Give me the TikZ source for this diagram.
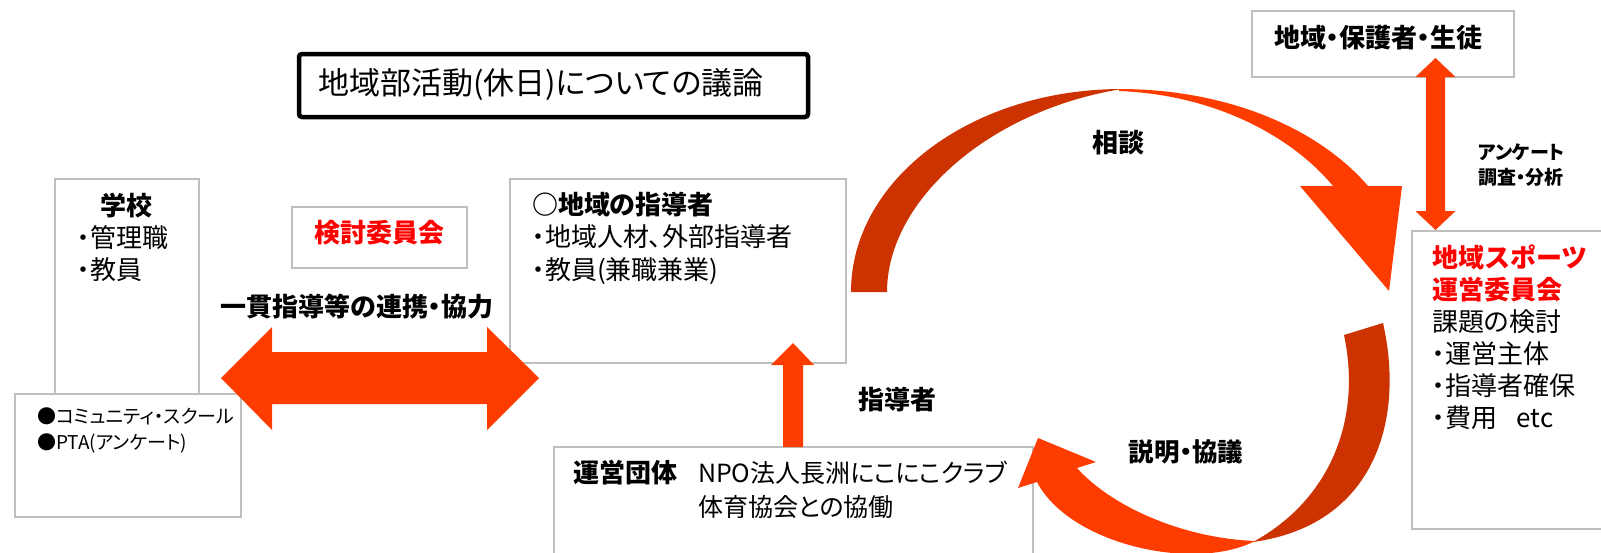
\documentclass[tikz,border=0pt]{standalone}
\usepackage{fontspec}
\setmainfont{Noto Sans CJK JP}[RawFeature=+palt]
\newfontfamily\jpfull{Noto Sans CJK JP}
\newcommand\fsz[2]{\fontsize{#1}{#2}\selectfont}
\definecolor{arrowred}{RGB}{255,60,0}
\definecolor{arrowdark}{RGB}{204,51,0}
\definecolor{boxgray}{RGB}{191,191,191}
\definecolor{textred}{RGB}{255,0,0}
\tikzset{
  box/.style={draw=boxgray, line width=2pt, fill=white, inner sep=0pt, outer sep=0pt, anchor=north west},
  titlebox/.style={draw=black, line width=4.5pt, fill=white, rounded corners=3pt, inner sep=0pt, outer sep=0pt, anchor=north west},
  txt/.style={inner sep=0pt, outer sep=0pt, align=left, anchor=north west, text=black},
  lbl/.style={inner sep=0pt, outer sep=0pt, text=black, font=\fsz{26}{32}\bfseries},
  blockarrow/.style={fill=arrowred},
  backarrow/.style={fill=arrowdark}
}
\begin{document}
\begin{tikzpicture}[x=1pt,y=-1pt]
\useasboundingbox (0,0) rectangle (1601,552);
\clip (0,0) rectangle (1601,552);
\fill[white] (0,0) rectangle (1601,552);

% boxes
\node[titlebox, minimum width=509, minimum height=63] (titlebox) at (299,54) {};
\node[box, minimum width=144, minimum height=215] (school) at (55,179) {};
\node[box, minimum width=226, minimum height=123] (community) at (15,394) {};
\node[box, minimum width=175, minimum height=61] (kentou) at (292,207) {};
\node[box, minimum width=336, minimum height=184] (leaders) at (510,179) {};
\node[box, minimum width=479, minimum height=140] (operator) at (554,447) {};
\node[box, minimum width=262, minimum height=66] (public) at (1252,11) {};
\node[box, minimum width=220, minimum height=298] (sports) at (1412,231) {};

% texts
\node[txt, anchor=west, font=\fsz{31}{36}] (title) at (318,84) {地域部活動(休日)についての議論};
\node[lbl] (school-h) at (126.5,206) {学校};
\node[txt, font=\fsz{26}{32}] (school-t) at (77,225.8) {・管理職\\・教員};
\node[txt, font=\fsz{19}{26}] (community-t) at (37,408) {●コミュニティ・スクール\\●PTA(アンケート)};
\node[lbl, text=textred] (kentou-t) at (379,233) {検討委員会};
\node[lbl] (renkei) at (357,307) {一貫指導等の連携・協力};
\node[txt, font=\fsz{26}{32.5}] (leaders-t) at (532,191.8) {{\bfseries ○地域の指導者}\\・地域人材、外部指導者\\・教員(兼職兼業)};
\node[lbl] (shidousha) at (897,400) {指導者};
\node[lbl, anchor=west] (operator-h) at (573,473) {運営団体};
\node[txt, font=\fsz{25}{34}] (operator-t) at (698,461) {NPO法人長洲にこにこクラブ\\体育協会との協働};
\node[lbl] (soudan) at (1118,143) {相談};
\node[lbl, font=\fsz{25.5}{30}\bfseries] (setsumei) at (1186,452) {説明・協議};
\node[lbl, font=\fsz{26}{30}\bfseries] (public-t) at (1378,38) {地域・保護者・生徒};
\node[txt, font=\fsz{19}{25}\bfseries] (survey) at (1478,144) {アンケート\\調査・分析};
\node[txt, font=\fsz{26}{32}] (sports-t) at (1432,244.8) {{\jpfull\bfseries\color{textred}地域スポーツ}\\{\bfseries\color{textred}運営委員会}\\課題の検討\\・運営主体\\・指導者確保\\・費用\hspace{0.75em}etc};

% straight block arrows
\fill[blockarrow] (221,378) -- (272,327) -- (272,352) -- (487,352) -- (487,327) -- (539,378)
  -- (487,430) -- (487,404) -- (272,404) -- (272,430) -- cycle;
\fill[blockarrow] (793,343) -- (814,365) -- (803,365) -- (803,447) -- (783,447) -- (783,365) -- (771,365) -- cycle;
\fill[blockarrow] (1435.5,58) -- (1455.5,77) -- (1445,77) -- (1445,211) -- (1455.5,211) -- (1435.5,230)
  -- (1415.5,211) -- (1426,211) -- (1426,77) -- (1415.5,77) -- cycle;

% top curved arrow
\fill[backarrow] (851,292) .. controls (851,180) and (971,89) .. (1122,89)
  .. controls (990,110) and (887,200) .. (887,292) -- cycle;
\fill[blockarrow] (1119,89) .. controls (1230,89) and (1320,130) .. (1368,186) -- (1402,186) -- (1389,291)
  -- (1300,186) -- (1333,186) .. controls (1295,140) and (1220,95) .. (1119,91) -- cycle;

% bottom curved arrow
\fill[backarrow] (1344,335) -- (1383,323) .. controls (1405,420) and (1375,525) .. (1253,542)
  .. controls (1330,500) and (1362,420) .. (1344,335) -- cycle;
\fill[blockarrow] (1255,541) .. controls (1180,538) and (1110,505) .. (1077,468) -- (1096,462) -- (1038,438)
  -- (1018,488) -- (1037,482) .. controls (1070,545) and (1195,572) .. (1255,541) -- cycle;
\end{tikzpicture}
\end{document}
